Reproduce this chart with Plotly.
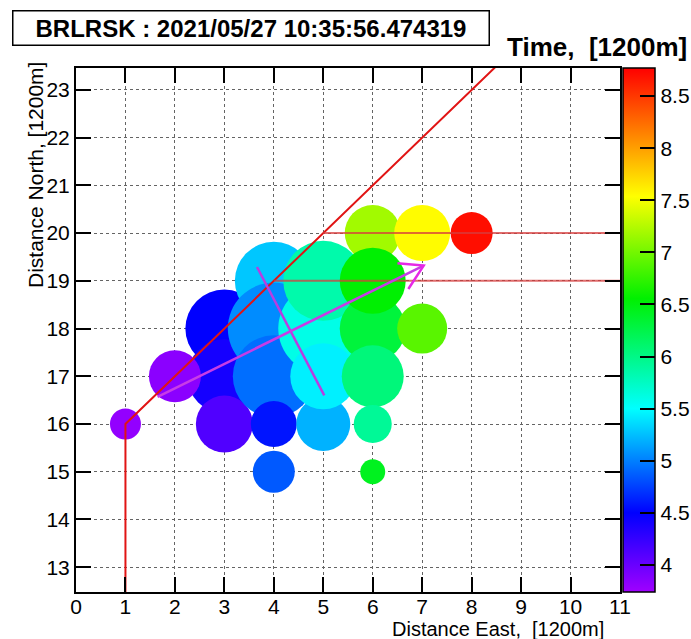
import plotly.graph_objects as go

# ---------------- data ----------------
east  = [3, 3, 2, 1, 3, 4, 4, 4, 4, 4, 5, 5, 5, 5, 6, 6, 6, 6, 6, 6, 7, 7, 8]
north = [18, 17, 17, 16, 16, 19, 18, 17, 16, 15, 18, 19, 16, 17, 20, 18, 17, 16, 15, 19, 20, 18, 20]
time_ = [4.50, 4.40, 3.84, 3.80, 4.12, 5.28, 5.05, 4.93, 4.58, 4.85, 5.60, 5.85, 5.20, 5.44,
         7.18, 6.31, 6.05, 5.93, 6.43, 6.55, 7.55, 6.90, 8.70]
signal = [78, 74, 52, 31, 57, 78, 92, 82, 46, 42, 90, 80, 54, 66,
          56, 66, 62, 38, 25, 66, 56, 50, 42]

# red track (vertical leg then diagonal)
track_e = [1, 1, 9]
track_n = [12.0, 16, 24]
# horizontal reference lines
hline_n = [20, 19]
hline_e0 = [5, 4]
hline_e1 = [11, 11]
# fitted arrow and its perpendicular
arrow_e = [1.65, 7.03]
arrow_n = [16.57, 19.32]
head_e = [6.50, 7.03, 6.72]
head_n = [19.37, 19.32, 18.83]
perp_e = [3.66, 5.02]
perp_n = [19.29, 16.60]

title_text = "BRLRSK : 2021/05/27 10:35:56.474319"
z_title = "Time,  [1200m]"
x_title = "Distance East,  [1200m]"
y_title = "Distance North, [1200m]"
cb_ticks = [4, 4.5, 5, 5.5, 6, 6.5, 7, 7.5, 8, 8.5]

FONT = "Liberation Sans"
W, H = 691, 639
L, R, T, B = 76, 620, 68, 592
pw, ph = R - L, B - T
zmin, zmax = 3.74, 8.77

rainbow = [
    [0.0, "rgb(160,0,255)"],
    [0.151, "rgb(0,0,255)"],
    [0.35, "rgb(0,255,255)"],
    [0.56, "rgb(0,240,0)"],
    [0.755, "rgb(255,255,0)"],
    [1.0, "rgb(255,0,0)"],
]

fig = go.Figure()

fig.add_trace(go.Scatter(
    x=east, y=north, mode="markers",
    marker=dict(
        size=signal, sizemode="diameter", sizeref=1,
        color=time_, colorscale=rainbow, cmin=zmin, cmax=zmax,
        line=dict(width=0), opacity=1,
        colorbar=dict(
            x=(623 - L) / pw, xanchor="left", xpad=0,
            y=0.5, yanchor="middle", len=1, lenmode="fraction", ypad=0,
            thickness=32, thicknessmode="pixels",
            outlinewidth=1.5, outlinecolor="black",
            tickmode="array", tickvals=cb_ticks,
            ticks="inside", ticklen=15, tickwidth=2, tickcolor="black",
            tickfont=dict(family=FONT, size=21, color="black"),
        ),
    ),
    hoverinfo="skip", showlegend=False,
))

# red track
fig.add_trace(go.Scatter(x=track_e, y=track_n, mode="lines",
                         line=dict(color="rgb(225,20,20)", width=2),
                         showlegend=False, hoverinfo="skip"))
for n, e0, e1 in zip(hline_n, hline_e0, hline_e1):
    fig.add_trace(go.Scatter(x=[e0, e1], y=[n, n], mode="lines",
                             line=dict(color="rgba(215,60,60,0.75)", width=2),
                             showlegend=False, hoverinfo="skip"))
fig.add_trace(go.Scatter(x=perp_e, y=perp_n, mode="lines",
                         line=dict(color="rgb(185,60,225)", width=2.5),
                         showlegend=False, hoverinfo="skip"))
fig.add_trace(go.Scatter(x=arrow_e, y=arrow_n, mode="lines",
                         line=dict(color="rgb(200,60,230)", width=2.5),
                         showlegend=False, hoverinfo="skip"))
fig.add_trace(go.Scatter(x=head_e, y=head_n, mode="lines",
                         line=dict(color="rgb(230,40,230)", width=2.5),
                         showlegend=False, hoverinfo="skip"))

axis_common = dict(
    showline=True, linecolor="black", linewidth=2, mirror="ticks",
    ticks="inside", ticklen=15, tickwidth=2, tickcolor="black",
    showgrid=True, gridcolor="rgb(100,100,100)", griddash="dot", gridwidth=1,
    zeroline=False, tickfont=dict(family=FONT, size=21, color="black"),
    dtick=1, tick0=0,
)
fig.update_xaxes(range=[0, 11], ticklabelstandoff=-5, **axis_common)
fig.update_yaxes(range=[12.48, 23.46], **axis_common)

fig.update_layout(
    width=W, height=H,
    margin=dict(l=L, r=W - R, t=T, b=H - B, pad=0, autoexpand=False),
    paper_bgcolor="white", plot_bgcolor="white",
    font=dict(family=FONT, color="black"),
    annotations=[
        dict(text=title_text, xref="paper", yref="paper",
             x=(12 - L) / pw, y=(B - 10) / ph, xanchor="left", yanchor="top",
             showarrow=False, font=dict(family=FONT, size=24, color="black", weight="bold"),
             bordercolor="black", borderwidth=1.5, borderpad=2, bgcolor="white",
             width=471, height=29, align="center"),
        dict(text=z_title, xref="paper", yref="paper",
             x=(689 - L) / pw, y=(B - 47) / ph, xanchor="right", yanchor="middle",
             showarrow=False, font=dict(family=FONT, size=26, color="black", weight="bold")),
        dict(text=x_title, xref="paper", yref="paper",
             x=(606 - L) / pw, y=(B - 629) / ph, xanchor="right", yanchor="middle",
             showarrow=False, font=dict(family=FONT, size=20, color="black")),
        dict(text=y_title, xref="paper", yref="paper", textangle=-90,
             x=(35 - L) / pw, y=(B - 60) / ph, xanchor="center", yanchor="top",
             showarrow=False, font=dict(family=FONT, size=21, color="black")),
    ],
)

fig.write_html("out.html")
